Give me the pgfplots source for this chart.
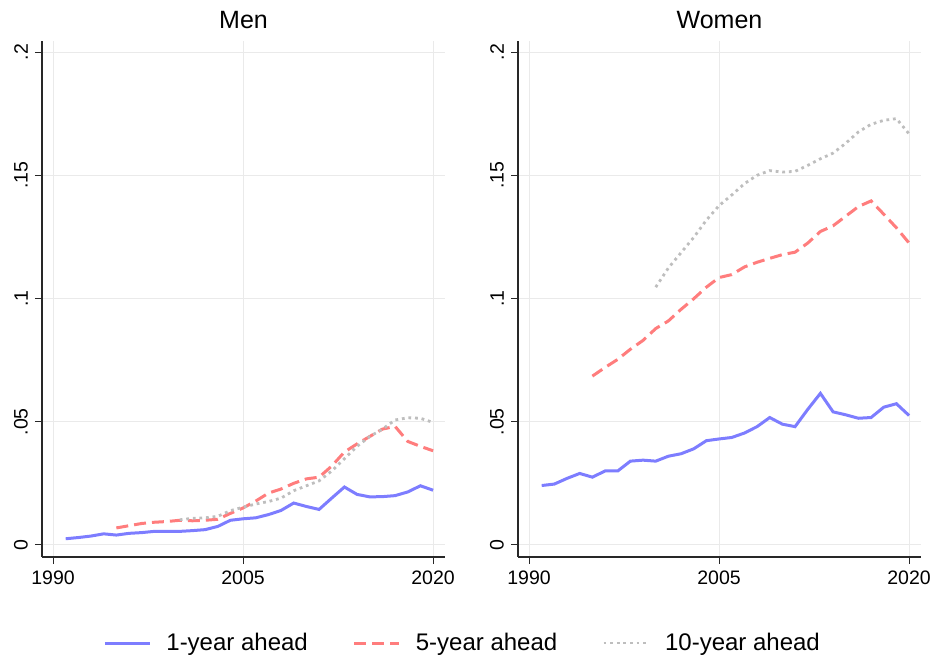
\documentclass[border=0pt]{standalone}
\usepackage{fontspec}
\setmainfont{Liberation Sans}
\usepackage{pgfplots}
\usepackage{pgfplotstable}
\pgfplotsset{compat=1.18}
\definecolor{cblue}{RGB}{125,125,255}
\definecolor{cred}{RGB}{255,125,125}
\definecolor{cgray}{RGB}{190,190,190}
\definecolor{cgrid}{RGB}{234,234,234}
\definecolor{caxis}{RGB}{40,40,40}

\pgfplotstableread{
year one five ten
1991 0.0025 nan nan
1992 0.0030 nan nan
1993 0.0036 nan nan
1994 0.0045 nan nan
1995 0.0040 0.0069 nan
1996 0.0047 0.0078 nan
1997 0.0050 0.0087 nan
1998 0.0055 0.0092 nan
1999 0.0055 0.0095 nan
2000 0.0055 0.0100 0.0102
2001 0.0058 0.0098 0.0108
2002 0.0062 0.0100 0.0110
2003 0.0075 0.0104 0.0116
2004 0.0100 0.0128 0.0139
2005 0.0106 0.0150 0.0153
2006 0.0110 0.0178 0.0166
2007 0.0123 0.0210 0.0176
2008 0.0140 0.0227 0.0190
2009 0.0170 0.0250 0.0220
2010 0.0156 0.0268 0.0240
2011 0.0144 0.0275 0.0260
2012 0.0190 0.0320 0.0300
2013 0.0235 0.0377 0.0350
2014 0.0205 0.0410 0.0400
2015 0.0195 0.0440 0.0440
2016 0.0196 0.0470 0.0470
2017 0.0200 0.0481 0.0507
2018 0.0215 0.0420 0.0516
2019 0.0240 0.0400 0.0514
2020 0.0222 0.0382 0.0497
}\men

\pgfplotstableread{
year one five ten
1991 0.0241 nan nan
1992 0.0247 nan nan
1993 0.0270 nan nan
1994 0.0290 nan nan
1995 0.0275 0.0685 nan
1996 0.0300 0.0720 nan
1997 0.0300 0.0753 nan
1998 0.0340 0.0794 nan
1999 0.0344 0.0830 nan
2000 0.0340 0.0878 0.1046
2001 0.0360 0.0909 0.1124
2002 0.0370 0.0956 0.1186
2003 0.0390 0.0999 0.1248
2004 0.0423 0.1046 0.1318
2005 0.0430 0.1085 0.1377
2006 0.0436 0.1097 0.1420
2007 0.0454 0.1128 0.1466
2008 0.0480 0.1147 0.1500
2009 0.0517 0.1163 0.1519
2010 0.0490 0.1178 0.1513
2011 0.0480 0.1188 0.1516
2012 0.0550 0.1225 0.1540
2013 0.0615 0.1272 0.1567
2014 0.0540 0.1295 0.1590
2015 0.0528 0.1334 0.1630
2016 0.0514 0.1373 0.1676
2017 0.0517 0.1396 0.1707
2018 0.0559 0.1342 0.1723
2019 0.0573 0.1287 0.1730
2020 0.0525 0.1225 0.1668
}\women

\pgfplotsset{
  panel/.style={
    scale only axis, width=201.5pt, height=258pt,
    xmin=1989.13, xmax=2020.94, ymin=-0.0049, ymax=0.2045,
    axis x line*=bottom, axis y line*=left,
    axis line style={-, draw=caxis, line width=0.7pt},
    tick align=outside, major tick length=3.5pt,
    tick style={caxis, line width=0.5pt},
    xtick={1990,2005,2020}, xticklabels={1990,2005,2020},
    ytick={0,0.05,0.1,0.15,0.2}, yticklabels={0,.05,.1,.15,.2},
    ticklabel style={font=\fontsize{9.75}{11}\selectfont, text=black},
    yticklabel style={rotate=90, anchor=south},
    grid=major, major grid style={cgrid, line width=0.5pt},
    title style={at={(0.5,1)}, anchor=base, yshift=0pt, font=\fontsize{12.5}{14}\selectfont},
    unbounded coords=jump,
  },
  s1/.style={cblue, line width=1.5pt, solid},
  s5/.style={cred, line width=1.5pt, dash pattern=on 6pt off 3pt},
  s10/.style={cgray, line width=1.4pt, dash pattern=on 1.4pt off 1.9pt},
}

\begin{document}
\begin{tikzpicture}
\begin{axis}[panel, at={(0,0)}, anchor=south west, title={Men},
  legend style={at={(axis description cs:0.1514,-0.1667)}, anchor=west,
    draw=none, fill=none, inner sep=0pt, legend columns=3,
    font=\fontsize{12}{14}\selectfont,
    nodes={inner sep=0pt},
    /tikz/every odd column/.append style={column sep=7.5pt},
    /tikz/every even column/.append style={column sep=22.5pt}},
  legend image code/.code={\draw[#1] (0pt,0pt) -- (22.5pt,0pt);}]
\addplot[s1] table[x=year, y=one] {\men};
\addlegendentry{1-year ahead}
\addplot[s5] table[x=year, y=five] {\men};
\addlegendentry{5-year ahead}
\addplot[s10] table[x=year, y=ten] {\men};
\addlegendentry{10-year ahead}
\end{axis}
\begin{axis}[panel, at={(238pt,0)}, anchor=south west, title={Women}]
\addplot[s1] table[x=year, y=one] {\women};
\addplot[s5] table[x=year, y=five] {\women};
\addplot[s10] table[x=year, y=ten] {\women};
\end{axis}
\pgfresetboundingbox
\path (-21pt,-51pt) rectangle (445.5pt,278.5pt);
\end{tikzpicture}
\end{document}
